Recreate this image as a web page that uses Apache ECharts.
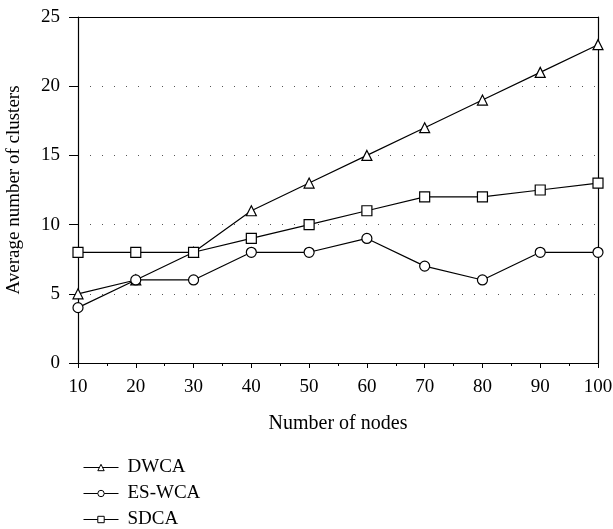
<!DOCTYPE html>
<html><head><meta charset="utf-8">
<script src="https://cdn.jsdelivr.net/npm/echarts@6/dist/echarts.min.js"></script>
<style>html,body{margin:0;padding:0;background:#fff}#c{width:613px;height:529px}</style>
</head><body><div id="c"></div>
<script>
const nodes = [10, 20, 30, 40, 50, 60, 70, 80, 90, 100];
const dwca = [5, 6, 8, 11, 13, 15, 17, 19, 21, 23];
const eswca = [4, 6, 6, 8, 8, 9, 7, 6, 8, 8];
const sdca = [8, 8, 8, 9, 10, 11, 12, 12, 12.5, 13];
const FONT = 'Liberation Serif';
const chart = echarts.init(document.getElementById('c'));
function ser(name, data, symbol) {
  return {
    name, type: 'line', data: nodes.map((x, i) => [x, data[i]]),
    symbol, symbolSize: 10,
    showAllSymbol: true,
    lineStyle: { color: '#000', width: 1.2 },
    itemStyle: { color: '#fff', borderColor: '#000', borderWidth: 1.2 },
    emphasis: { disabled: true }, animation: false
  };
}
chart.setOption({
  animation: false,
  textStyle: { fontFamily: FONT },
  grid: { left: 78, right: 15, top: 17, bottom: 166, containLabel: false, outerBoundsMode: 'none' },
  legend: {
    orient: 'vertical', left: 78, top: 453, itemGap: 7,
    itemWidth: 35, itemHeight: 8, height: 76,
    lineStyle: { width: 1 },
    itemStyle: { borderWidth: 1 },
    textStyle: { fontFamily: FONT, fontSize: 19, lineHeight: 19, color: '#000', padding: [0, 0, 0, 4] },
    data: ['DWCA', 'ES-WCA', 'SDCA']
  },
  xAxis: [{
    type: 'value', min: 10, max: 100, interval: 10,
    name: 'Number of nodes', nameLocation: 'middle', nameGap: 51,
    nameTextStyle: { fontFamily: FONT, fontSize: 20, color: '#000' },
    axisLine: { lineStyle: { color: '#000', width: 1.2 } },
    axisTick: { show: true, length: 5, lineStyle: { color: '#000' } },
    minorTick: { show: true, splitNumber: 2, length: 3, lineStyle: { color: '#000' } },
    axisLabel: { fontFamily: FONT, fontSize: 19, color: '#000', margin: 15 },
    splitLine: { show: false }
  }, {
    type: 'value', position: 'top', min: 10, max: 100, interval: 10,
    axisLine: { show: true, onZero: false, lineStyle: { color: '#000', width: 1.2 } },
    axisTick: { show: false }, axisLabel: { show: false }, splitLine: { show: false }
  }],
  yAxis: [{
    type: 'value', min: 0, max: 25, interval: 5,
    name: 'Average number of clusters', nameLocation: 'middle', nameGap: 54,
    nameTextStyle: { fontFamily: FONT, fontSize: 19, color: '#000' },
    axisLine: { show: true, onZero: false, lineStyle: { color: '#000', width: 1.2 } },
    axisTick: { show: true, length: 9, lineStyle: { color: '#000' } },
    axisLabel: { fontFamily: FONT, fontSize: 19, color: '#000', margin: 18 },
    splitLine: { show: true, lineStyle: { color: '#555', type: [1, 11], width: 1 } }
  }, {
    type: 'value', position: 'right', min: 0, max: 25, interval: 5,
    axisLine: { show: true, onZero: false, lineStyle: { color: '#000', width: 1.2 } },
    axisTick: { show: false }, axisLabel: { show: false }, splitLine: { show: false }
  }],
  series: [ser('DWCA', dwca, 'triangle'), ser('ES-WCA', eswca, 'circle'), ser('SDCA', sdca, 'rect')]
});
</script></body></html>
